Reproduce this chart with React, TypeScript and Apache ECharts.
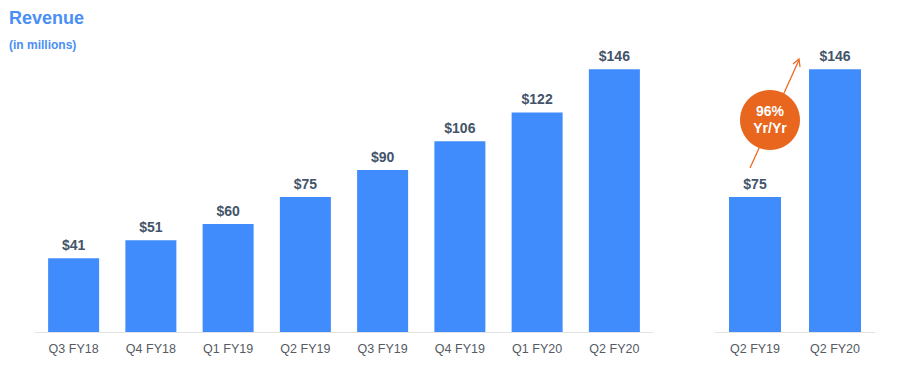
import React, { useEffect, useRef } from "react";
import * as echarts from "echarts";

const categoriesMain = ["Q3 FY18", "Q4 FY18", "Q1 FY19", "Q2 FY19", "Q3 FY19", "Q4 FY19", "Q1 FY20", "Q2 FY20"];
const revenueMain = [41, 51, 60, 75, 90, 106, 122, 146];
const categoriesCompare = ["Q2 FY19", "Q2 FY20"];
const revenueCompare = [75, 146];
const growthLabel = ["96%", "Yr/Yr"];

const BAR = "#418cfc";
const LABEL = "#44546a";
const FONT = "Liberation Sans, Arial, sans-serif";

export default function App() {
  const ref = useRef<HTMLDivElement>(null);
  useEffect(() => {
    const chart = echarts.init(ref.current!, null, { renderer: "svg" });
    const xAxisCommon = {
      type: "category" as const,
      axisLine: { show: true, lineStyle: { color: "#e3e3e3", width: 1 } },
      axisTick: { show: false },
      axisLabel: { color: "#555a63", fontSize: 12.5, fontFamily: FONT, margin: 10 },
    };
    const yAxisCommon = { type: "value" as const, min: 0, max: 160, show: false, splitLine: { show: false } };
    const barLabel = {
      show: true,
      position: "top" as const,
      distance: 6,
      color: LABEL,
      fontWeight: "bold" as const,
      fontSize: 14,
      fontFamily: FONT,
      formatter: (p: any) => "$" + p.value,
    };
    chart.setOption({
      animation: false,
      backgroundColor: "#ffffff",
      title: [
        { text: "Revenue", left: 1, top: 1, padding: 0, textStyle: { color: "#4a8ff5", fontSize: 18, fontWeight: "bold", fontFamily: FONT } },
        { text: "(in millions)", left: 1, top: 31, padding: 0, textStyle: { color: "#4a8ff5", fontSize: 12, fontWeight: "bold", fontFamily: FONT } },
      ],
      grid: [
        { left: 27, width: 618, top: 36, height: 288 },
        { left: 707, width: 160, top: 36, height: 288 },
      ],
      xAxis: [
        { ...xAxisCommon, gridIndex: 0, data: categoriesMain },
        { ...xAxisCommon, gridIndex: 1, data: categoriesCompare },
      ],
      yAxis: [
        { ...yAxisCommon, gridIndex: 0 },
        { ...yAxisCommon, gridIndex: 1 },
      ],
      series: [
        { type: "bar", xAxisIndex: 0, yAxisIndex: 0, data: revenueMain, barWidth: 51, itemStyle: { color: BAR }, label: barLabel },
        { type: "bar", xAxisIndex: 1, yAxisIndex: 1, data: revenueCompare, barWidth: 52, itemStyle: { color: BAR }, label: barLabel },
      ],
      graphic: [
        { type: "line", shape: { x1: 742, y1: 160, x2: 791, y2: 52 }, style: { stroke: "#ec6a23", lineWidth: 1.3 }, z: 10 },
        { type: "polyline", shape: { points: [[785, 56], [791, 51], [792, 59]] }, style: { stroke: "#ec6a23", lineWidth: 1.3, fill: null }, z: 10 },
        { type: "circle", shape: { cx: 762, cy: 112, r: 30 }, style: { fill: "#e8661e" }, z: 11 },
        {
          type: "text", x: 762, y: 111, z: 12,
          style: {
            text: growthLabel.join("\n"), fill: "#ffffff", fontSize: 14, fontWeight: "bold", fontFamily: FONT,
            align: "center", verticalAlign: "middle", lineHeight: 17,
          },
        },
      ],
    });
    return () => chart.dispose();
  }, []);
  return <div ref={ref} style={{ width: 883, height: 353 }} />;
}
